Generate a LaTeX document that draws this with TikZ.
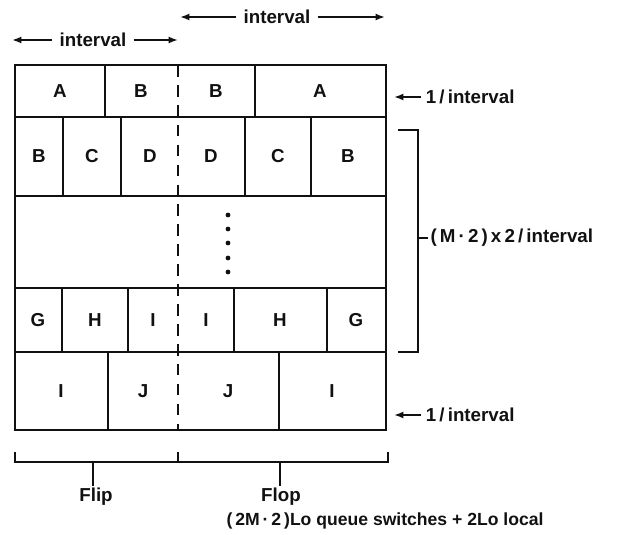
\documentclass[tikz,border=0pt]{standalone}
\usepackage{tikz}
\usetikzlibrary{arrows.meta}
\usepackage{fontspec}
\setmainfont{Liberation Sans}
\definecolor{ink}{HTML}{111111}

\begin{document}
\begin{tikzpicture}[x=0.03cm,y=-0.03cm,every node/.style={font=\bfseries\fontsize{16}{18}\selectfont,text=ink,inner sep=2pt},
    dir/.style={-{Latex[length=8pt,width=6pt]},line width=1.8pt,draw=ink},
    heavy/.style={line width=1.9pt,draw=ink}]
    \useasboundingbox (0,0) rectangle (630,535);
    % interval arrows above the box
    \node[inner xsep=6pt] (ivlhi) at (277,17) {interval};
    \coordinate (hiL) at (180,17); \coordinate (hiR) at (385,17);
    \draw[dir] (ivlhi.west) -- (hiL);
    \draw[dir] (ivlhi.east) -- (hiR);
    \node[inner xsep=6pt] (ivllo) at (93,40) {interval};
    \coordinate (loL) at (12,40); \coordinate (loR) at (178,40);
    \draw[dir] (ivllo.west) -- (loL);
    \draw[dir] (ivllo.east) -- (loR);
    % the rows, outer frame
    \draw[heavy] (15,65) rectangle (386,430);
    \foreach \y in {117,196,288,352} { \draw[heavy] (15,\y) -- (386,\y); }
    % cell walls
    \foreach \x in {105,255} { \draw[ink,line width=0.9pt] (\x,65) -- (\x,117); }
    \foreach \x in {63,121,245,311} { \draw[ink,line width=0.9pt] (\x,117) -- (\x,196); }
    \foreach \x in {62,128,234,327} { \draw[ink,line width=0.9pt] (\x,288) -- (\x,352); }
    \foreach \x in {108,279} { \draw[ink,line width=0.9pt] (\x,352) -- (\x,430); }
    \draw[ink,line width=1.3pt,dash pattern=on 10pt off 7pt] (178,65) -- (178,430);
    % cell labels
    \foreach \x/\l [count=\i] in {60/A,141/B,216/B,320/A} { \node (ra\i) at (\x,91) {\l}; }
    \foreach \x/\l [count=\i] in {39/B,92/C,150/D,211/D,278/C,348/B} { \node (rb\i) at (\x,156) {\l}; }
    \foreach \x/\l [count=\i] in {38/G,95/H,153/I,206/I,280/H,356/G} { \node (rc\i) at (\x,320) {\l}; }
    \foreach \x/\l [count=\i] in {61/I,143/J,228/J,332/I} { \node (rd\i) at (\x,391) {\l}; }
    \foreach \y in {215,229,243,258,272} { \fill[ink] (228,\y) circle (2.4); }
    % rates on the right
    \node[anchor=west,inner xsep=4pt] (rtop) at (421,97) {1\,/\,interval};
    \coordinate (rtopT) at (394,97);
    \draw[dir] (rtop.west) -- (rtopT);
    \node[anchor=west,inner xsep=4pt] (rbot) at (421,415) {1\,/\,interval};
    \coordinate (rbotT) at (394,415);
    \draw[dir] (rbot.west) -- (rbotT);
    \draw[heavy] (398,130) -- (418,130) -- (418,352) -- (398,352);
    \node[anchor=west,inner xsep=2pt] (rmid) at (428,238) {(\,M\,·\,2\,)\,x\,2\,/\,interval};
    \coordinate (brk) at (418,238);
    \draw[heavy] (brk) -- (rmid.west);
    % flip / flop brackets
    \draw[heavy] (15,452) -- (15,462) -- (178,462) -- (178,452);
    \draw[heavy] (178,462) -- (388,462) -- (388,452);
    \coordinate (flipT) at (93,462); \coordinate (flopT) at (280,462);
    \node (flip) at (96,497) {Flip};
    \node (flop) at (281,497) {Flop};
    \draw[heavy] (flipT) -- (flipT |- flip.north);
    \draw[heavy] (flopT) -- (flopT |- flop.north);
    \node[font=\bfseries\fontsize{15}{17}\selectfont] (cost) at (385,521) {(\,2M\,·\,2\,)Lo queue switches + 2Lo local};
  \end{tikzpicture}
\end{document}
